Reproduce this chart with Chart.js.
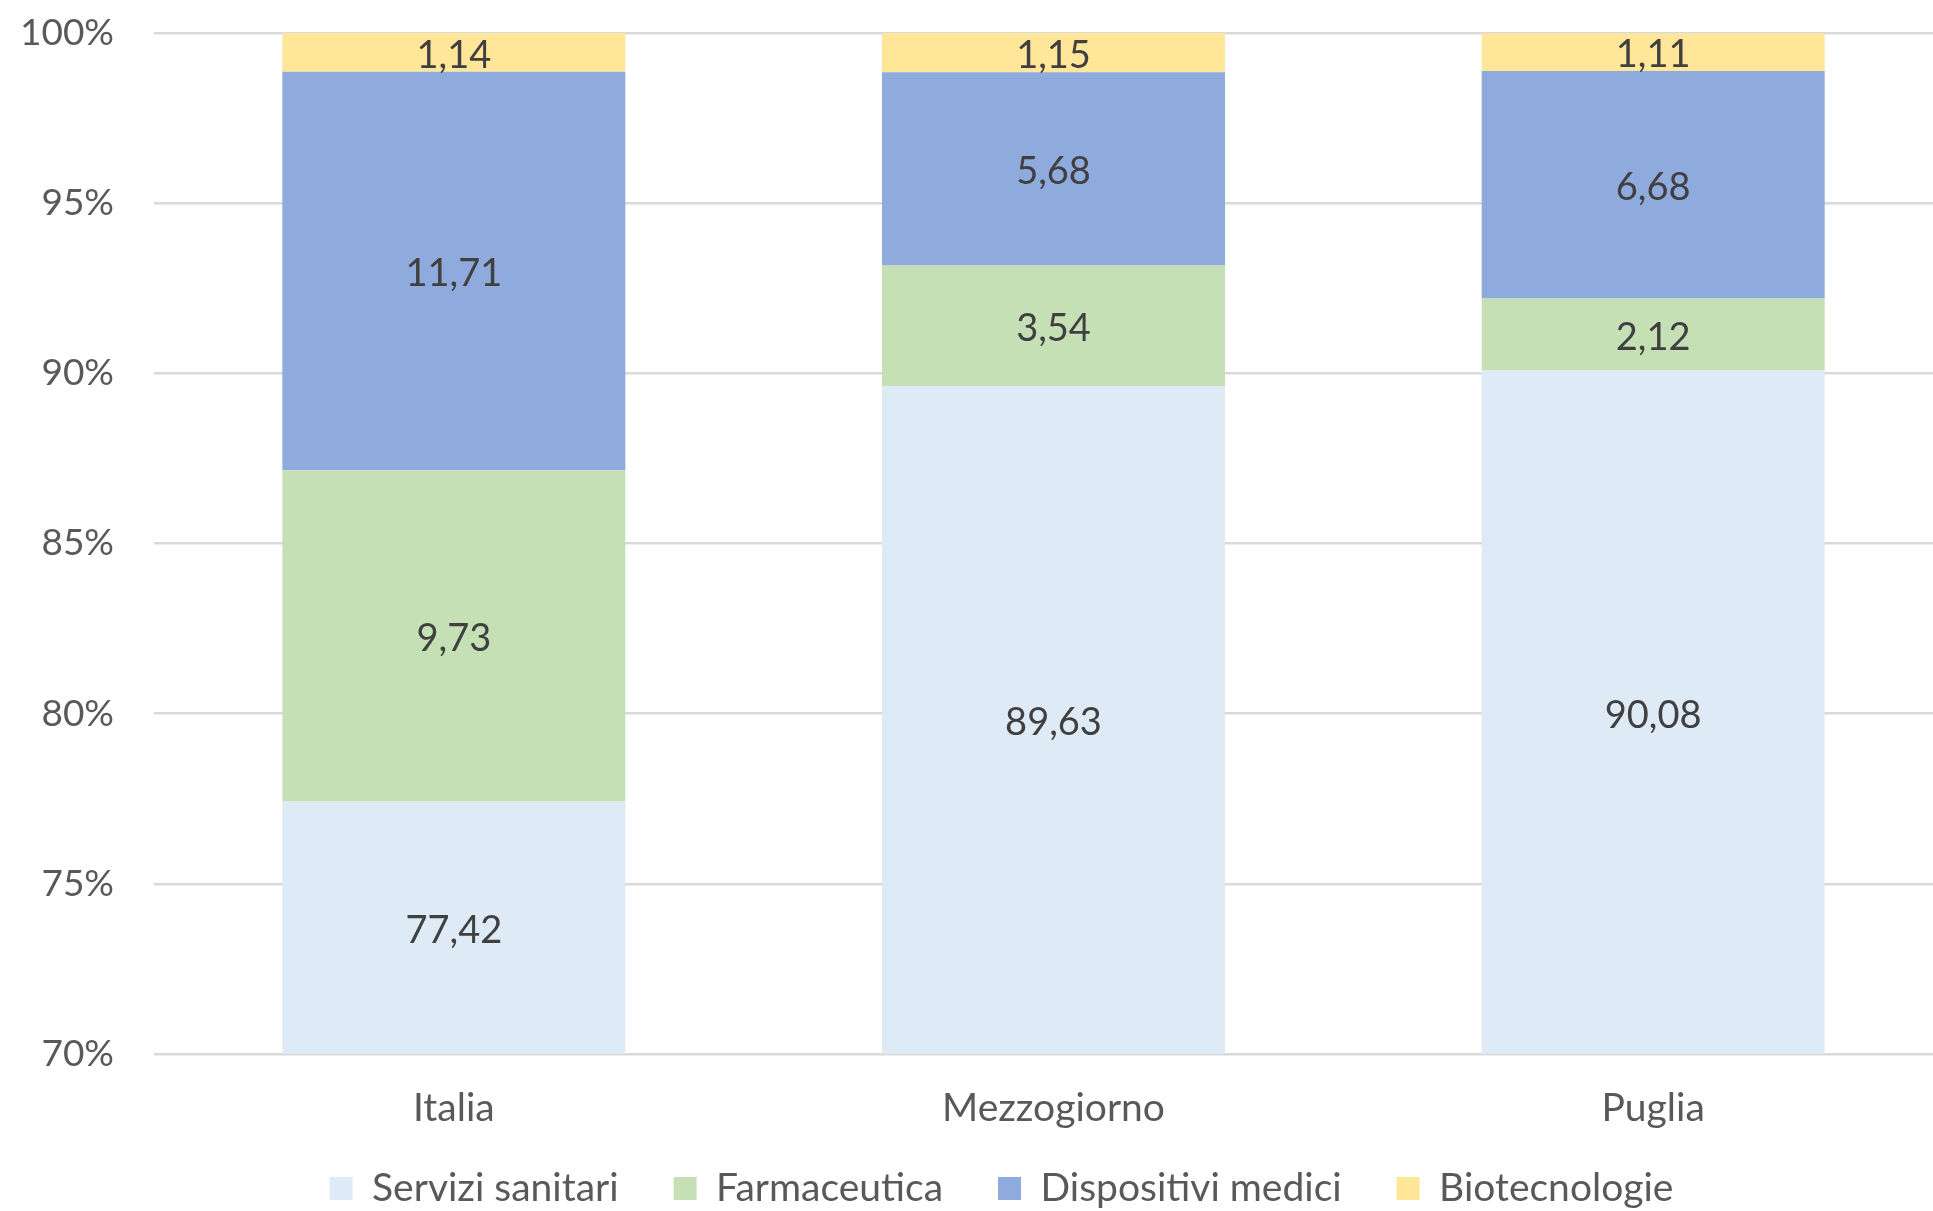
<!DOCTYPE html>
<html>
<head>
<meta charset="utf-8">
<script src="https://cdn.jsdelivr.net/npm/chart.js@4.4.1/dist/chart.umd.min.js"></script>
<style>
  html, body { margin: 0; padding: 0; background: #fff; overflow: hidden; }
  #wrap { position: relative; width: 2003px; height: 1218px; }
</style>
</head>
<body>
<div id="wrap"><canvas id="chart"></canvas></div>
<script>
// ===============================
// Dati
// ===============================
const categories = ["Italia", "Mezzogiorno", "Puglia"];
const serviziSanitari = [77.42, 89.63, 90.08];
const farmaceutica = [9.73, 3.54, 2.12];
const dispositiviMedici = [11.71, 5.68, 6.68];
const biotecnologie = [1.14, 1.15, 1.11];
const yTicks = [70, 75, 80, 85, 90, 95, 100];

const FONT = "Lato, 'Open Sans', sans-serif";
const fmt = v => v.toFixed(2).replace(".", ",");

// etichette dei valori, centrate nella parte visibile del segmento
const valueLabels = {
  id: "valueLabels",
  afterDatasetsDraw(chart) {
    const { ctx, chartArea } = chart;
    ctx.save();
    ctx.font = "38px " + FONT;
    ctx.fillStyle = "#404040";
    ctx.textAlign = "center";
    ctx.textBaseline = "middle";
    chart.data.datasets.forEach((ds, i) => {
      chart.getDatasetMeta(i).data.forEach((bar, j) => {
        const top = Math.max(bar.y, chartArea.top);
        const bottom = Math.min(bar.base, chartArea.bottom);
        ctx.fillText(fmt(ds.data[j]), bar.x, (top + bottom) / 2 + 3);
      });
    });
    ctx.restore();
  }
};

const ctx = document.getElementById("chart").getContext("2d");
new Chart(ctx, {
  type: "bar",
  data: {
    labels: categories,
    datasets: [
      { label: "Servizi sanitari", data: serviziSanitari, backgroundColor: "#DEEAF6" },
      { label: "Farmaceutica", data: farmaceutica, backgroundColor: "#C5E0B4" },
      { label: "Dispositivi medici", data: dispositiviMedici, backgroundColor: "#8FAADC" },
      { label: "Biotecnologie", data: biotecnologie, backgroundColor: "#FFE699" }
    ]
  },
  options: {
    responsive: true,
    maintainAspectRatio: false,
    animation: false,
    datasets: { bar: { barPercentage: 1, categoryPercentage: 0.572 } },
    layout: { padding: { top: 33, bottom: 0 } },
    plugins: {
      tooltip: { enabled: false },
      legend: {
        position: "bottom",
        labels: {
          color: "#595959",
          font: { family: FONT, size: 39 },
          boxWidth: 23,
          boxHeight: 23,
          padding: 35,
          // un po' più di spazio fra le voci
          generateLabels: chart => {
            const items = Chart.defaults.plugins.legend.labels.generateLabels(chart);
            items.forEach((it, i) => { if (i < items.length - 1) it.text += "  "; });
            return items;
          }
        }
      }
    },
    scales: {
      x: {
        stacked: true,
        afterFit: s => { s.height = 80; },
        grid: { display: false },
        border: { display: false },
        ticks: { color: "#595959", font: { family: FONT, size: 39 }, padding: 23 }
      },
      y: {
        stacked: true,
        min: 70,
        max: 100,
        afterFit: s => { s.width = 154; },
        afterBuildTicks: s => { s.ticks = yTicks.map(v => ({ value: v })); },
        grid: { color: "#D9D9D9", lineWidth: 2.5, tickLength: 40, tickColor: "rgba(0,0,0,0)" },
        border: { display: false },
        ticks: {
          color: "#595959",
          font: { family: FONT, size: 37 },
          padding: 0,
          callback: v => v + "%"
        }
      },
      yr: {
        position: "right",
        display: true,
        afterFit: s => { s.width = 50; },
        grid: { display: false },
        border: { display: false },
        ticks: { display: false }
      }
    }
  },
  plugins: [valueLabels]
});
</script>
</body>
</html>
